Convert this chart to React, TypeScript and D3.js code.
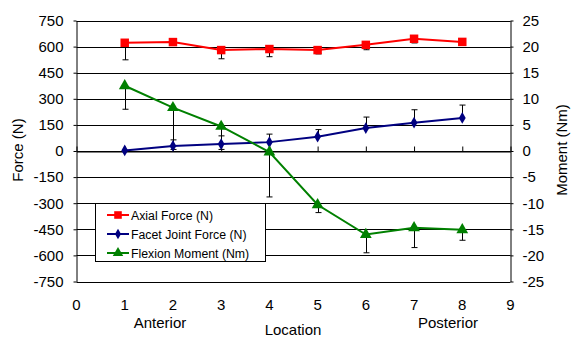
import React, { useEffect, useRef } from "react";
import * as d3 from "d3";

const locations = [1, 2, 3, 4, 5, 6, 7, 8];
const axialForce = [622, 626, 580, 586, 580, 610, 645, 627];
const axialErr = [98, 10, 50, 44, 22, 28, 24, 8];
const facetForce = [3, 29, 40, 51, 82, 132, 163, 190];
const facetErr = [0, 35, 47, 46, 41, 63, 74, 74];
const flexionMoment = [12.5, 8.3, 4.7, -0.2, -10.3, -16.0, -14.7, -15.1];
const flexionErr = [4.5, 8.0, 4.4, 8.6, 1.5, 3.5, 3.8, 2.0];
const forceTicks = [-750, -600, -450, -300, -150, 0, 150, 300, 450, 600, 750];
const momentTicks = [-25, -20, -15, -10, -5, 0, 5, 10, 15, 20, 25];
const xTicks = [0, 1, 2, 3, 4, 5, 6, 7, 8, 9];

const W = 572;
const H = 339;
const FONT = "Arial, 'Liberation Sans', sans-serif";
const AXIS_FS = 15;

const App = () => {
  const ref = useRef<SVGSVGElement>(null);

  useEffect(() => {
    const svg = d3.select(ref.current);
    svg.selectAll("*").remove();

    const left = 76.5, right = 510.5, top = 20.5, bottom = 281.5;

    const x = d3.scaleLinear().domain([0, 9]).range([left, right]);
    const yF = d3.scaleLinear().domain([-750, 750]).range([bottom, top]);
    const yM = d3.scaleLinear().domain([-25, 25]).range([bottom, top]);

    // gridlines
    svg.append("g")
      .selectAll("line")
      .data(forceTicks)
      .join("line")
      .attr("x1", left)
      .attr("x2", right)
      .attr("y1", d => Math.round(yF(d)) + 0.5)
      .attr("y2", d => Math.round(yF(d)) + 0.5)
      .attr("stroke", "#000")
      .attr("stroke-width", 1);

    // left axis
    const gl = svg.append("g")
      .attr("transform", `translate(${left},0)`)
      .call(d3.axisLeft(yF).tickValues(forceTicks).tickSize(3).tickPadding(10).tickSizeOuter(0)
        .tickFormat(d => String(d)));
    gl.select(".domain").attr("stroke", "#000");
    gl.selectAll("text").attr("font-size", AXIS_FS).attr("font-family", FONT).attr("fill", "#000");

    // right axis
    const gr = svg.append("g")
      .attr("transform", `translate(${right},0)`)
      .call(d3.axisRight(yM).tickValues(momentTicks).tickSize(3).tickPadding(9).tickSizeOuter(0)
        .tickFormat(d => String(d)));
    gr.select(".domain").attr("stroke", "#000");
    gr.selectAll("text").attr("font-size", AXIS_FS).attr("font-family", FONT).attr("fill", "#000");

    // x axis at zero with ticks pointing up
    const zeroY = Math.round(yF(0)) + 0.5;
    const gx = svg.append("g")
      .attr("transform", `translate(0,${zeroY})`)
      .call(d3.axisBottom(x).tickValues(xTicks).tickSize(-5).tickSizeOuter(0).tickFormat(() => ""));
    gx.select(".domain").attr("stroke", "#000");

    // x tick labels at the bottom
    svg.append("g")
      .selectAll("text")
      .data(xTicks)
      .join("text")
      .attr("x", d => x(d))
      .attr("y", 310)
      .attr("text-anchor", "middle")
      .attr("font-size", AXIS_FS)
      .attr("font-family", FONT)
      .text(d => d);

    const label = (txt: string, tx: number, ty: number, rot = 0) =>
      svg.append("text")
        .attr("transform", `translate(${tx},${ty}) rotate(${rot})`)
        .attr("text-anchor", "middle")
        .attr("font-size", AXIS_FS)
        .attr("font-family", FONT)
        .text(txt);

    label("Anterior", 160, 328);
    label("Location", 293, 335);
    label("Posterior", 448, 328);
    label("Force (N)", 23, 150, -90);
    label("Moment (Nm)", 567, 150, -90);

    const series = [
      { name: "Axial Force (N)", vals: axialForce, err: axialErr, dir: -1, y: yF, color: "#ff0000", shape: d3.symbolSquare, size: 72 },
      { name: "Facet Joint Force (N)", vals: facetForce, err: facetErr, dir: 1, y: yF, color: "#000080", shape: d3.symbolDiamond, size: 40 },
      { name: "Flexion Moment (Nm)", vals: flexionMoment, err: flexionErr, dir: -1, y: yM, color: "#008000", shape: d3.symbolTriangle, size: 60 },
    ];

    // error bars
    series.forEach(s => {
      const g = svg.append("g").attr("stroke", "#000").attr("stroke-width", 1);
      locations.forEach((loc, i) => {
        if (!s.err[i]) return;
        const cx = Math.round(x(loc)) + 0.5;
        const y0 = s.y(s.vals[i]);
        const y1 = s.y(s.vals[i] + s.dir * s.err[i]);
        g.append("line").attr("x1", cx).attr("x2", cx).attr("y1", y0).attr("y2", y1);
        g.append("line").attr("x1", cx - 3).attr("x2", cx + 3).attr("y1", y1).attr("y2", y1);
      });
    });

    // lines and markers
    series.forEach(s => {
      const line = d3.line<number>()
        .x((_, i) => x(locations[i]))
        .y(d => s.y(d));
      svg.append("path")
        .attr("d", line(s.vals))
        .attr("fill", "none")
        .attr("stroke", s.color)
        .attr("stroke-width", 2);
      svg.append("g")
        .selectAll("path")
        .data(s.vals)
        .join("path")
        .attr("transform", (d, i) => `translate(${x(locations[i])},${s.y(d)})`)
        .attr("d", d3.symbol().type(s.shape).size(s.size)())
        .attr("fill", s.color);
    });

    // legend
    const lg = svg.append("g");
    lg.append("rect")
      .attr("x", 95.5).attr("y", 203.5)
      .attr("width", 170).attr("height", 58)
      .attr("fill", "#fff").attr("stroke", "#000");
    series.forEach((s, i) => {
      const ly = 215 + i * 19;
      lg.append("line")
        .attr("x1", 107).attr("x2", 129)
        .attr("y1", ly).attr("y2", ly)
        .attr("stroke", s.color).attr("stroke-width", 2);
      lg.append("path")
        .attr("transform", `translate(118,${ly})`)
        .attr("d", d3.symbol().type(s.shape).size(s.size * 0.8)())
        .attr("fill", s.color);
      lg.append("text")
        .attr("x", 131).attr("y", ly + 4.5)
        .attr("font-size", 12.3)
        .attr("font-family", FONT)
        .text(s.name);
    });
  }, []);

  return (
    <svg
      ref={ref}
      width={W}
      height={H}
      style={{ position: "absolute", left: 0, top: 0, background: "#fff" }}
    />
  );
};

export default App;
